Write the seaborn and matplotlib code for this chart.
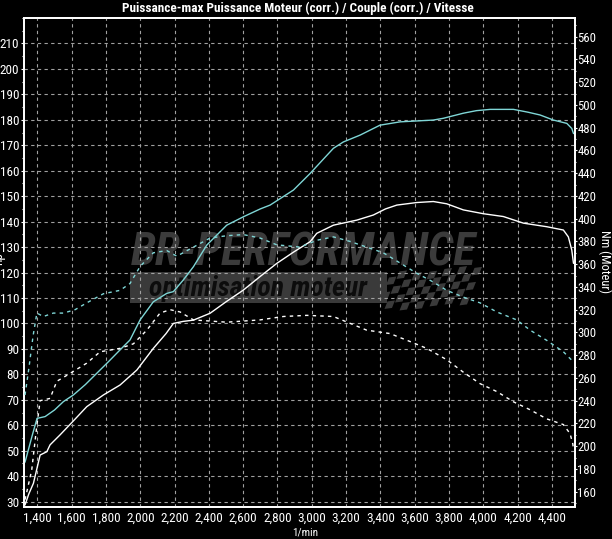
import numpy as np
import pandas as pd
import matplotlib
matplotlib.use("Agg")
import matplotlib.pyplot as plt
import matplotlib.ticker as mticker
from matplotlib import font_manager as fm
from matplotlib.patches import Rectangle, Polygon
import seaborn as sns

# ---------------- data ----------------
title = "Puissance-max Puissance Moteur (corr.) / Couple (corr.) / Vitesse"

rpm_pow_after = [1328, 1370, 1398, 1445, 1500, 1552, 1610, 1680, 1746, 1815, 1882, 1940, 1999,
                 2076, 2154, 2193, 2250, 2310, 2388, 2504, 2601, 2700, 2757, 2893, 2990, 3060,
                 3126, 3184, 3282, 3398, 3515, 3708, 3767, 3884, 3960, 4040, 4176, 4260, 4331,
                 4409, 4487, 4516, 4526]
pow_after = [45.5, 56, 62.7, 63.4, 66, 69.3, 71.9, 76, 80.4, 85, 89.6, 93.5, 101.4,
             108.5, 111.8, 112.5, 117, 122.3, 130.8, 138.6, 141.9, 145, 146.5, 152.4, 158.9, 164,
             168.8, 171.3, 174, 177.9, 179.2, 179.9, 180.6, 182.6, 183.6, 184.1, 184.1, 183, 181.9,
             179.9, 178.6, 176.6, 174.6]

rpm_pow_before = [1328, 1350, 1377, 1416, 1455, 1474, 1532, 1600, 1688, 1785, 1882, 1980, 2076,
                  2150, 2193, 2250, 2310, 2407, 2500, 2601, 2700, 2796, 2893, 2990, 3029, 3126,
                  3263, 3359, 3430, 3496, 3612, 3709, 3787, 3884, 4001, 4117, 4234, 4370, 4467,
                  4496, 4516, 4526]
pow_before = [28.7, 33, 37.2, 48.3, 49.6, 52.3, 56.2, 61, 67.3, 71.9, 75.8, 81.7, 90.2,
              96, 100, 100.8, 101.3, 104, 108.5, 113.1, 118.5, 123.6, 128, 132.1, 135.4, 138.6,
              140.6, 142.6, 145, 146.5, 147.5, 147.9, 147, 144.6, 143.1, 142, 139.4, 138, 136.7,
              134, 128.8, 123.6]

rpm_tq_after = [1328, 1350, 1375, 1397, 1435, 1493, 1552, 1620, 1688, 1785, 1882, 1940, 1999,
                2076, 2154, 2213, 2310, 2407, 2504, 2601, 2698, 2796, 2932, 3029, 3126, 3223,
                3320, 3417, 3515, 3612, 3700, 3787, 3884, 3981, 4079, 4195, 4273, 4370, 4467,
                4526]
tq_after = [245, 268, 297, 317, 314, 317, 317, 320, 326, 334, 337, 343, 358,
            370, 372, 367, 375, 383, 385, 386, 383, 377, 375, 381, 384, 380,
            375, 370, 361, 352, 345, 337, 331, 326, 318, 311, 302, 293, 283,
            274]

rpm_tq_before = [1328, 1367, 1396, 1416, 1474, 1513, 1591, 1688, 1766, 1882, 1960, 2038, 2115,
                 2174, 2232, 2310, 2504, 2698, 2834, 2971, 3126, 3223, 3320, 3456, 3573, 3670,
                 3787, 3884, 3981, 4079, 4176, 4273, 4370, 4467, 4506, 4522, 4526]
tq_before = [153, 179, 217, 240, 242, 257, 264, 273, 283, 286, 290, 302, 317,
             320, 318, 311, 309, 311, 314, 315, 314, 308, 302, 299, 292, 286,
             276, 265, 255, 248, 239, 232, 224, 219, 211, 202, 197]

power_ticks = list(range(30, 211, 10))
torque_ticks = list(range(160, 561, 20))
rpm_ticks = list(range(1400, 4401, 200))

# ---------------- fonts ----------------
sns.set_style("dark")
entries = fm.fontManager.ttflist
names = {f.name for f in entries}
family = None
stretch = "normal"
for cand in ["Liberation Sans Narrow", "Arial Narrow", "Roboto Condensed", "Open Sans Condensed",
             "DejaVu Sans Condensed", "Noto Sans Condensed"]:
    if cand in names:
        family = cand
        break
if family is None:
    for f in entries:
        if f.name in ("DejaVu Sans", "Noto Sans", "Open Sans", "Roboto") and \
                str(f.stretch) in ("condensed", "semi-condensed", "extra-condensed", "ultra-condensed"):
            family = f.name
            stretch = "condensed"
            break
if family is None:
    family = "Liberation Sans"
plt.rcParams["font.family"] = [family, "DejaVu Sans"]
plt.rcParams["font.stretch"] = stretch
plt.rcParams["axes.unicode_minus"] = False

narrow = family in ("Liberation Sans Narrow", "Arial Narrow", "Roboto Condensed", "Open Sans Condensed")
tick_fs = 9.5 if narrow else 8.0
title_fs = 9.5 if narrow else 8.3

W, H = 612, 539
fig = plt.figure(figsize=(W / 100, H / 100), dpi=100, facecolor="black")
L, R, T, B = 24, 574.7, 18, 506.7
ax = fig.add_axes([L / W, 1 - B / H, (R - L) / W, (B - T) / H])
ax.set_facecolor("black")
ax2 = ax.twinx()
ax2.patch.set_visible(False)

cyan = "#7fd6d6"
white = "#ffffff"

df_pa = pd.DataFrame({"rpm": rpm_pow_after, "val": pow_after})
df_pb = pd.DataFrame({"rpm": rpm_pow_before, "val": pow_before})
df_ta = pd.DataFrame({"rpm": rpm_tq_after, "val": tq_after})
df_tb = pd.DataFrame({"rpm": rpm_tq_before, "val": tq_before})

sns.lineplot(data=df_pa, x="rpm", y="val", ax=ax, color=cyan, lw=1.0, estimator=None, sort=False, zorder=5)
sns.lineplot(data=df_pb, x="rpm", y="val", ax=ax, color=white, lw=1.0, estimator=None, sort=False, zorder=5)
sns.lineplot(data=df_ta, x="rpm", y="val", ax=ax2, color=cyan, lw=1.0, estimator=None, sort=False,
             linestyle=(0, (2.5, 3)), zorder=5)
sns.lineplot(data=df_tb, x="rpm", y="val", ax=ax2, color=white, lw=1.0, estimator=None, sort=False,
             linestyle=(0, (2.5, 3)), zorder=5)

# limits
ax.set_xlim(1322, 4533)
ax.set_ylim(28, 220)
ax2.set_ylim(146.8, 576.4)

# ticks
ax.xaxis.set_major_locator(mticker.FixedLocator(rpm_ticks))
ax.xaxis.set_minor_locator(mticker.MultipleLocator(100))
ax.xaxis.set_major_formatter(mticker.FuncFormatter(lambda v, p: f"{int(v):,}"))
ax.yaxis.set_major_locator(mticker.FixedLocator(power_ticks))
ax.yaxis.set_minor_locator(mticker.MultipleLocator(5))
ax2.yaxis.set_major_locator(mticker.FixedLocator(torque_ticks))
ax2.yaxis.set_minor_locator(mticker.MultipleLocator(10))

ax.tick_params(axis="x", which="major", direction="in", length=4, width=0.8, colors="white",
               labelsize=tick_fs, pad=3.5)
ax.tick_params(axis="x", which="minor", direction="in", length=2, width=0.8, colors="white")
ax.tick_params(axis="y", which="major", direction="out", length=2.5, width=0.8, colors="white",
               labelsize=tick_fs, pad=0.8)
ax.tick_params(axis="y", which="minor", direction="out", length=1.2, width=0.8, colors="white")
ax2.tick_params(axis="y", which="major", direction="out", length=1.5, width=0.8, colors="white",
                labelsize=tick_fs - 0.3, pad=0.5)
ax2.tick_params(axis="y", which="minor", direction="out", length=0.8, width=0.8, colors="white")

ax.grid(True, which="major", color="#a0a0a0", linestyle=(0, (3, 3)), linewidth=0.8)
ax2.grid(False)
ax.set_axisbelow(False)

for a in (ax, ax2):
    for s in a.spines.values():
        s.set_color("white")
        s.set_linewidth(1.3)
        s.set_visible(True)

ax.set_xlabel("")
ax.set_ylabel("")
ax2.set_ylabel("")
fig.text(305 / W, 1 - 533 / H, "1/min", color="white", fontsize=tick_fs - 1.5, ha="center", va="center")
fig.text(604.5 / W, 1 - 261 / H, "Nm (Moteur)", color="white", fontsize=tick_fs - 0.5, rotation=270,
         ha="center", va="center")
fig.text(-1 / W, 1 - 259 / H, "hp", color="white", fontsize=tick_fs, rotation=90,
         ha="center", va="center")
fig.text(298 / W, 1 - 8 / H, title, color="white", fontsize=title_fs, fontweight="bold",
         ha="center", va="center")

# ---------------- watermark ----------------
tf = fig.transFigure
def P(x, y):
    return (x / W, 1 - y / H)

wm = "#3b3b3b"
ax.text(*P(303, 253), "BR-PERFORMANCE", transform=tf, color=wm, fontsize=33, fontweight="bold",
        fontstyle="italic", ha="center", va="center", zorder=0.3)
x0, y0 = P(130, 303)
x1, y1 = P(387, 272)
ax.add_patch(Rectangle((x0, y0), x1 - x0, y1 - y0, transform=tf, facecolor="#3a3a3a",
                       edgecolor="none", zorder=0.2))
ax.text(*P(258, 288), "optimisation moteur", transform=tf, color="#0c0c0c", fontsize=20,
        fontweight="bold", fontstyle="italic", ha="center", va="center", zorder=0.35)
# checkered flag
sq = 7.5
for i in range(12):
    for j in range(5):
        if (i + j) % 2 == 0:
            continue
        bx = 392 + i * sq - j * 3
        by = 270 + j * sq + 3 * np.sin(i / 2.0)
        pts = [P(bx, by), P(bx + sq, by - 1), P(bx + sq - 3, by + sq - 1), P(bx - 3, by + sq)]
        ax.add_patch(Polygon(pts, closed=True, transform=tf, facecolor="#3a3a3a",
                             edgecolor="none", zorder=0.25))

fig.savefig("out.png", dpi=100, facecolor="black")
